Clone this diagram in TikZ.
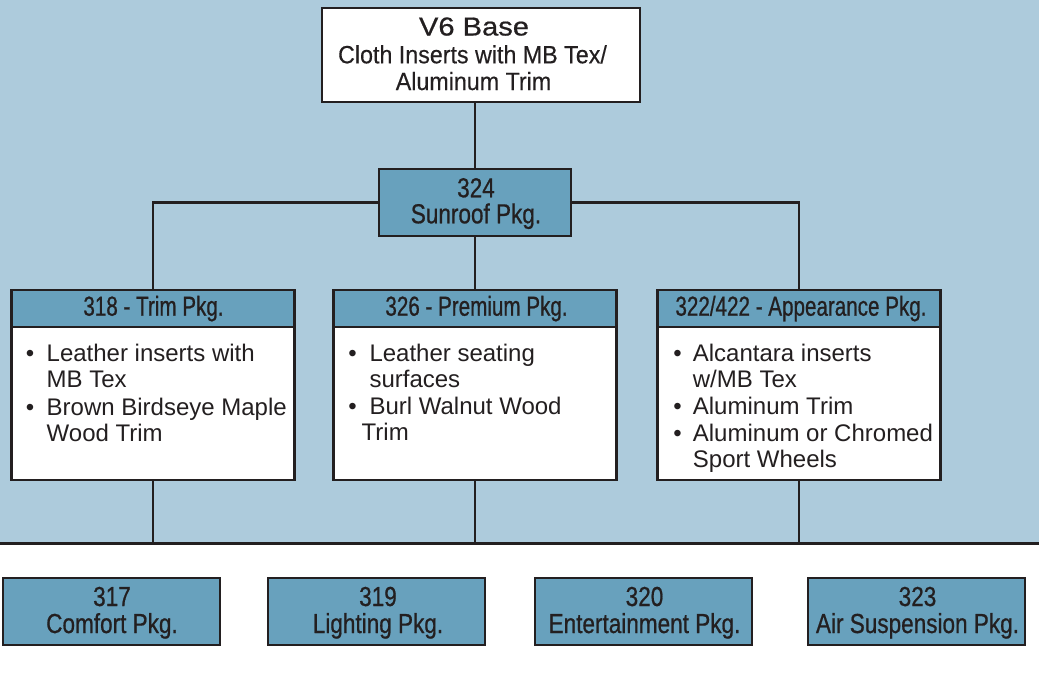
\documentclass[tikz,border=0pt]{standalone}
\usepackage{fontspec}
\setmainfont{Liberation Sans}
\newfontfamily\condfont[FakeStretch=0.75,FakeBold=0.7]{Liberation Sans}
\newfontfamily\midfont[FakeStretch=0.82,FakeBold=0.7]{Liberation Sans}
\newfontfamily\semifont[FakeStretch=0.93,FakeBold=0.3]{Liberation Sans}
\newfontfamily\widefont[FakeStretch=1.12,FakeBold=0.6]{Liberation Sans}
\definecolor{bglight}{RGB}{173,203,220}
\definecolor{hdrblue}{RGB}{104,161,189}
\definecolor{ink}{RGB}{35,31,32}
\begin{document}
\begin{tikzpicture}[x=1pt,y=-1pt,
  box/.style={draw=ink, line width=2.5pt, inner sep=0pt, rectangle},
  whitebox/.style={box, fill=white},
  bluebox/.style={box, fill=hdrblue},
  conn/.style={draw=ink, line width=2.5pt},
  txt/.style={text=ink, inner sep=0pt, anchor=base},
  ltxt/.style={text=ink, inner sep=0pt, anchor=base west, font=\fontsize{24}{26}\selectfont},
  btxt/.style={text=ink, inner sep=0pt, anchor=base, font=\fontsize{24}{26}\selectfont},
  hdr/.style={txt, font=\condfont\fontsize{27.5}{28}\selectfont},
  pkg/.style={txt, font=\midfont\fontsize{27.5}{28}\selectfont}
]
\useasboundingbox (0,0) rectangle (1039,675);
\fill[white] (0,0) rectangle (1039,675);
\fill[bglight] (0,0) rectangle (1039,543);
\coordinate (lineL) at (0,543);
\coordinate (lineR) at (1039,543);

% top box
\node[whitebox, minimum width=318pt, minimum height=94pt] (base) at (481,55) {};
\node[txt, font=\widefont\fontsize{26}{27}\selectfont] (baseT) at (474,35.5) {V6 Base};
\node[txt, font=\semifont\fontsize{25}{26}\selectfont] (baseA) at (472.5,63.3) {Cloth Inserts with MB Tex/};
\node[txt, font=\semifont\fontsize{25}{26}\selectfont] (baseB) at (473.5,90) {Aluminum Trim};

% sunroof
\node[bluebox, minimum width=192pt, minimum height=67pt] (sun) at (475,202.5) {};
\node[pkg] (sunA) at (476,197.3) {324};
\node[pkg] (sunB) at (476,223.3) {Sunroof Pkg.};

% three package boxes
\foreach \n/\cx in {trim/153, prem/475, app/799}{
  \node[bluebox, minimum width=283pt, minimum height=37pt] (\n) at (\cx,308.5) {};
  \node[whitebox, minimum width=283pt, minimum height=153pt] (\n-body) at (\cx,403.5) {};
}
\node[hdr] (trimT) at (153.5,315.7) {318 - Trim Pkg.};
\node[hdr] (premT) at (476.5,315.7) {326 - Premium Pkg.};
\node[hdr] (appT) at (801,315.7) {322/422 - Appearance Pkg.};

% trim body
\node[btxt] (tb1) at (30,361) {\textbullet};
\node[ltxt] (tl1) at (46.5,361) {Leather inserts with};
\node[ltxt] (tl2) at (46.5,387.7) {MB Tex};
\node[btxt] (tb2) at (30,415) {\textbullet};
\node[ltxt] (tl3) at (46.5,415) {Brown Birdseye Maple};
\node[ltxt] (tl4) at (46.5,441) {Wood Trim};

% premium body
\node[btxt] (pb1) at (352.5,361) {\textbullet};
\node[ltxt] (pl1) at (369.3,361) {Leather seating};
\node[ltxt] (pl2) at (369.3,387.5) {surfaces};
\node[btxt] (pb2) at (352.5,414.3) {\textbullet};
\node[ltxt] (pl3) at (369.3,414.3) {Burl Walnut Wood};
\node[ltxt] (pl4) at (361.5,440.5) {Trim};

% appearance body
\node[btxt] (ab1) at (677.5,361) {\textbullet};
\node[ltxt] (al1) at (692.7,361) {Alcantara inserts};
\node[ltxt] (al2) at (692.7,387.5) {w/MB Tex};
\node[btxt] (ab2) at (677.5,414.3) {\textbullet};
\node[ltxt] (al3) at (692.7,414.3) {Aluminum Trim};
\node[btxt] (ab3) at (677.5,441) {\textbullet};
\node[ltxt] (al4) at (692.7,441) {Aluminum or Chromed};
\node[ltxt] (al5) at (692.7,467.7) {Sport Wheels};

% bottom boxes
\node[bluebox, minimum width=217pt, minimum height=67pt] (b317) at (111.5,611.5) {};
\node[bluebox, minimum width=217pt, minimum height=67pt] (b319) at (376.5,611.5) {};
\node[bluebox, minimum width=217pt, minimum height=67pt] (b320) at (643.5,611.5) {};
\node[bluebox, minimum width=217pt, minimum height=67pt] (b323) at (916.5,611.5) {};
\node[pkg] (n317) at (112,606) {317};
\node[pkg] (l317) at (112,633) {Comfort Pkg.};
\node[pkg] (n319) at (378,606) {319};
\node[pkg] (l319) at (378,633) {Lighting Pkg.};
\node[pkg] (n320) at (644.5,606) {320};
\node[pkg] (l320) at (644.5,633) {Entertainment Pkg.};
\node[pkg] (n323) at (917.5,606) {323};
\node[pkg] (l323) at (917.5,633) {Air Suspension Pkg.};

% connectors
\coordinate (jT) at (trim-body.south |- lineL);
\coordinate (jP) at (prem-body.south |- lineL);
\coordinate (jA) at (app-body.south |- lineL);
\draw[conn] (sun.north |- base.south) -- (sun.north);
\draw[conn] (sun.south) -- (prem.north);
\draw[conn] (sun.west) -| (trim.north);
\draw[conn] (sun.east) -| (app.north);
\draw[conn] (trim-body.south) -- (jT);
\draw[conn] (prem-body.south) -- (jP);
\draw[conn] (app-body.south) -- (jA);
\draw[draw=ink, line width=3pt] (lineL) -- (lineR);
\end{tikzpicture}
\end{document}
